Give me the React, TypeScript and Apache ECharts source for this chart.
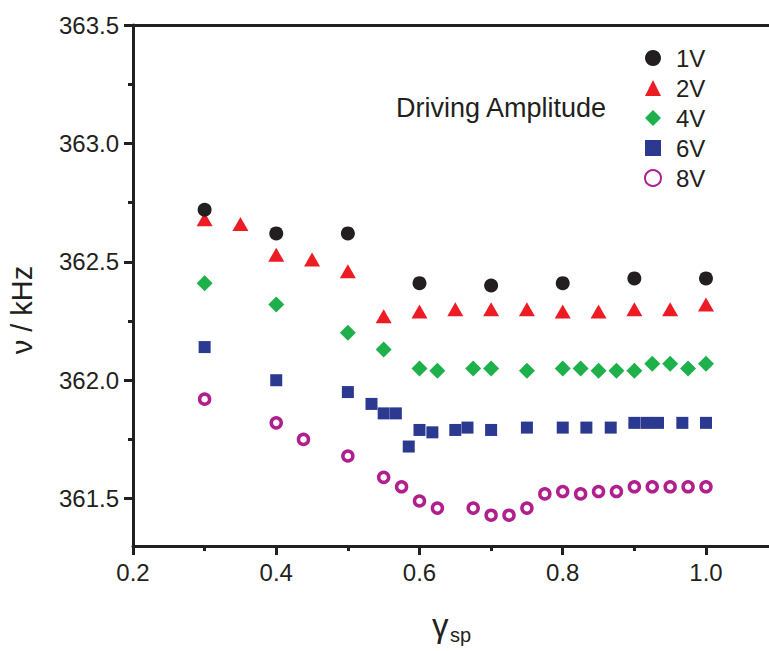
import React, { useEffect, useRef } from "react";
import * as echarts from "echarts";

const seriesNames = ["1V", "2V", "4V", "6V", "8V"];

const x1V = [0.3, 0.4, 0.5, 0.6, 0.7, 0.8, 0.9, 1.0];
const y1V = [362.72, 362.62, 362.62, 362.41, 362.4, 362.41, 362.43, 362.43];

const x2V = [0.3, 0.35, 0.4, 0.45, 0.5, 0.55, 0.6, 0.65, 0.7, 0.75, 0.8, 0.85, 0.9, 0.95, 1.0];
const y2V = [362.68, 362.66, 362.53, 362.51, 362.46, 362.27, 362.29, 362.3, 362.3, 362.3, 362.29, 362.29, 362.3, 362.3, 362.32];

const x4V = [0.3, 0.4, 0.5, 0.55, 0.6, 0.625, 0.675, 0.7, 0.75, 0.8, 0.825, 0.85, 0.875, 0.9, 0.925, 0.95, 0.975, 1.0];
const y4V = [362.41, 362.32, 362.2, 362.13, 362.05, 362.04, 362.05, 362.05, 362.04, 362.05, 362.05, 362.04, 362.04, 362.04, 362.07, 362.07, 362.05, 362.07];

const x6V = [0.3, 0.4, 0.5, 0.533, 0.55, 0.567, 0.585, 0.6, 0.618, 0.65, 0.667, 0.7, 0.75, 0.8, 0.833, 0.867, 0.9, 0.917, 0.933, 0.967, 1.0];
const y6V = [362.14, 362.0, 361.95, 361.9, 361.86, 361.86, 361.72, 361.79, 361.78, 361.79, 361.8, 361.79, 361.8, 361.8, 361.8, 361.8, 361.82, 361.82, 361.82, 361.82, 361.82];

const x8V = [0.3, 0.4, 0.438, 0.5, 0.55, 0.575, 0.6, 0.625, 0.675, 0.7, 0.725, 0.75, 0.775, 0.8, 0.825, 0.85, 0.875, 0.9, 0.925, 0.95, 0.975, 1.0];
const y8V = [361.92, 361.82, 361.75, 361.68, 361.59, 361.55, 361.49, 361.46, 361.46, 361.43, 361.43, 361.46, 361.52, 361.53, 361.52, 361.53, 361.53, 361.55, 361.55, 361.55, 361.55, 361.55];

const xMajorTicks = [0.2, 0.4, 0.6, 0.8, 1.0];
const xMinorTicks = [0.3, 0.5, 0.7, 0.9];
const yMajorTicks = [361.5, 362.0, 362.5, 363.0, 363.5];
const yMinorTicks = [361.75, 362.25, 362.75, 363.25];

const pair = (xs: number[], ys: number[]) => xs.map((x, i) => [x, ys[i]]);

const FONT = "Liberation Sans, Arial, sans-serif";
const INK = "#231f20";

export default function App() {
  const ref = useRef<HTMLDivElement>(null);
  useEffect(() => {
    if (!ref.current) return;
    const chart = echarts.init(ref.current, undefined, { renderer: "svg" });
    const axisLine = { show: true, lineStyle: { color: INK, width: 3 } };
    const majorTick = { show: true, inside: false, length: 9, lineStyle: { color: INK, width: 3 } };
    const minorTick = { show: true, inside: false, length: 5, lineStyle: { color: INK, width: 3 } };
    const X_MIN = 0.2;
    const X_MAX = 1.088;
    chart.setOption({
      animation: false,
      backgroundColor: "#ffffff",
      grid: { left: 133, right: 0, top: 25, bottom: 105, containLabel: false },
      legend: {
        orient: "vertical",
        left: 639,
        top: 41,
        itemWidth: 16,
        itemHeight: 16,
        itemGap: 6,
        data: seriesNames,
        textStyle: { fontFamily: FONT, fontSize: 24, color: INK, lineHeight: 24, padding: [0, 0, 0, 10] },
      },
      xAxis: [
        {
          type: "value",
          position: "bottom",
          min: X_MIN,
          max: X_MAX,
          axisLine,
          axisTick: { ...majorTick, customValues: xMajorTicks },
          axisLabel: {
            customValues: xMajorTicks,
            formatter: (v: number) => v.toFixed(1),
            fontFamily: FONT,
            fontSize: 24,
            color: INK,
            margin: 14,
          },
          splitLine: { show: false },
        },
        {
          type: "value",
          position: "bottom",
          min: X_MIN,
          max: X_MAX,
          axisLine: { show: false },
          axisTick: { ...minorTick, customValues: xMinorTicks },
          axisLabel: { show: false },
          splitLine: { show: false },
        },
        {
          type: "value",
          position: "top",
          min: X_MIN,
          max: X_MAX,
          axisLine,
          axisTick: { show: false },
          axisLabel: { show: false },
          splitLine: { show: false },
        },
      ],
      yAxis: [
        {
          type: "value",
          position: "left",
          min: 361.3,
          max: 363.5,
          axisLine,
          axisTick: { ...majorTick, customValues: yMajorTicks },
          axisLabel: {
            customValues: yMajorTicks,
            formatter: (v: number) => v.toFixed(1),
            fontFamily: FONT,
            fontSize: 24,
            color: INK,
            margin: 14,
          },
          splitLine: { show: false },
        },
        {
          type: "value",
          position: "left",
          min: 361.3,
          max: 363.5,
          axisLine: { show: false },
          axisTick: { ...minorTick, customValues: yMinorTicks },
          axisLabel: { show: false },
          splitLine: { show: false },
        },
      ],
      graphic: [
        {
          type: "text",
          x: 501,
          y: 108,
          style: {
            text: "Driving Amplitude",
            font: `27px ${FONT}`,
            fill: INK,
            align: "center",
            verticalAlign: "middle",
          },
        },
        {
          type: "text",
          x: 22,
          y: 310,
          rotation: Math.PI / 2,
          style: {
            text: "ν / kHz",
            font: `29px ${FONT}`,
            fill: INK,
            align: "center",
            verticalAlign: "middle",
          },
        },
        {
          type: "text",
          x: 432,
          y: 609,
          style: { text: "γ", font: `33px ${FONT}`, fill: INK, align: "left", verticalAlign: "top" },
        },
        {
          type: "text",
          x: 450,
          y: 625,
          style: { text: "sp", font: `20px ${FONT}`, fill: INK, align: "left", verticalAlign: "top" },
        },
      ],
      series: [
        {
          name: "1V",
          type: "scatter",
          data: pair(x1V, y1V),
          symbol: "circle",
          symbolSize: 14,
          itemStyle: { color: INK, opacity: 1 },
          z: 5,
        },
        {
          name: "2V",
          type: "scatter",
          data: pair(x2V, y2V),
          symbol: "triangle",
          symbolSize: [16, 14],
          itemStyle: { color: "#ed1c24", opacity: 1 },
          z: 4,
        },
        {
          name: "4V",
          type: "scatter",
          data: pair(x4V, y4V),
          symbol: "diamond",
          symbolSize: 16,
          itemStyle: { color: "#1db04b", opacity: 1 },
        },
        {
          name: "6V",
          type: "scatter",
          data: pair(x6V, y6V),
          symbol: "rect",
          symbolSize: 12,
          itemStyle: { color: "#2b3990", opacity: 1 },
        },
        {
          name: "8V",
          type: "scatter",
          data: pair(x8V, y8V),
          symbol: "circle",
          symbolSize: 10,
          itemStyle: { color: "#ffffff", borderColor: "#b01f8d", borderWidth: 3.5, opacity: 1 },
        },
      ],
    });
    return () => chart.dispose();
  }, []);
  return <div ref={ref} style={{ position: "fixed", left: 0, top: 0, width: 769, height: 651 }} />;
}
